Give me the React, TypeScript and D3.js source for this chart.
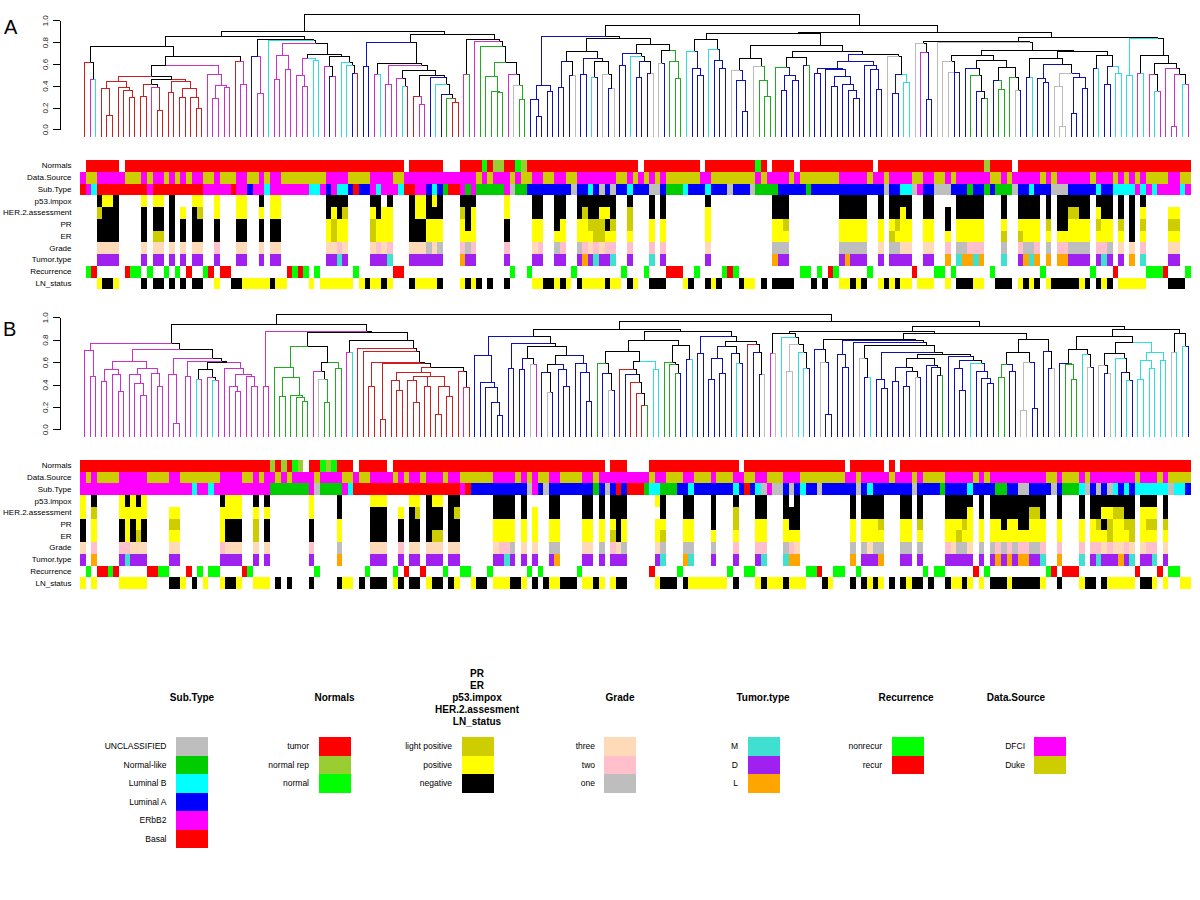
import React, { useEffect, useRef } from "react";
import * as d3 from "d3";

// annotation rows: "<code><from>-<to>" per sample column, blank where nothing is listed
const A_NORMALS = "R1-6 R8-57 R59-64 R68-71 G72 R73 V74-75 R76-77 G78 V79 R80-99 R101-110 R112-120 G121 R122 R124-127 R129-141 R143-161 V162 R163-166 R168-198";
const A_SOURCE = "M0 O1-2 M3-7 O8-10 M11 O12 M13-14 O15 M16 O17 M18 O19 M20-21 O22-23 M24 O25-27 M28-29 O30-31 M32 O33 M34-35 O36-43 M44-47 O48-51 M52-55 O56-57 M58-70 O71 M72 O73 M74-76 O77 M78 O79-80 M81-82 O83-84 M85-86 O87-88 M89-95 O96-97 M98 O99 M100 O101 M102 O103 M104 O105-110 M111-112 O113-120 M121 O122 M123-126 O127 M128 O129-135 M136-140 O141 M142-143 O144 M145-148 O149-150 M151-152 O153-154 M155 O156 M157-162 O163-164 M165 O166 M167-171 O172 M173 O174 M175-180 O181 M182-184 O185 M186 O187 M188 O189 M190 O191-194 M195-196 O197-198";
const A_SUBTYPE = "R0 M1 C2 R3-11 M12 R13-21 M22-26 R27 M28-29 B30 M31-32 C33 M34-40 C41-42 M43 B44 M45 C46-47 B48 R49 B50-51 M52 C53 M54-56 C57 R58-59 M60-61 B62 C63 B64 g65 R66-67 M68 g69 M70 g71-75 M76 U77 g78-79 B80-87 U88 B89-90 C91 B92 U93 B94 U95 B96-97 C98 B99-101 U102-103 B104 g105-107 C108 B109-111 C112 B113-115 U116 B117-119 U120 g121-124 B125-129 g130 B131-143 U144 B145-146 C147-148 U149 M150 B151-152 U153-155 B156-158 g159 B160-161 g162 B163 g164-166 U167 B168-169 C170 B171-173 U174-176 B177-181 C182 B183-184 C185-188 M189 C190 M191 C192 M193-196 C197 M198";
const A_P53 = "K3 Y4-5 K6 Y11 Y13-14 K16 Y20-21 Y24 Y28-29 K32 Y34-35 K44-47 K52-53 K55 K59 Y60-61 K62 Y63 K64 K68-70 Y76 K81-82 K85-86 K89-95 K98 K102 K104 K112 K124-126 K136-140 K143 K145-148 K151-152 K157-161 K165 K168-171 K173 K175-180 K182-184 K186 K188 K190";
const A_HER2 = "O3 K4-6 K11 K13-14 K16 Y18 K20 O21 Y24 Y28-29 Y32 Y34-35 K44 Y45 K46 O47 Y52 K53 Y54-55 K59 Y60-61 K62-64 O68 K69 Y70 Y76 K81-82 K85-86 K89 O90 K91-92 Y93-94 K95 O98 K102 K104 Y112 K124-126 K136-140 K143 K145-146 Y147 K148 K151-152 K155 K157-161 K165 K168-171 K173 K175-176 O177-178 K179-180 Y182 K183-184 K186 K188 Y190 Y195-196";
const A_PR = "K3-6 K11 K13-14 K16 K18 K20-21 K24 K28-29 K32 K34-35 Y44 O45 Y46-47 O52 Y53-55 K59-61 Y62-64 Y68 K69 Y70 K76 Y81-82 K85 Y86 Y89-90 O91-93 K94 O95 O98 Y102 Y104 Y112 Y124-125 O126 Y136-140 Y143 Y145 O146 Y147-148 Y151-152 K155 Y157-161 Y165 Y168-171 O173 K175-176 Y177-180 O182 Y183-184 O186 K188 O190 O195-196";
const A_ER = "K3-6 K11 O13-14 K16 K18 K20-21 K24 K28-29 K32 K34-35 Y44 O45 Y46-47 O52 Y53-55 K59-61 Y62-64 Y68-70 K76 Y81-82 Y85-86 Y89-91 O92-93 Y94-95 Y98 Y102 Y104 Y112 Y124-126 Y136-140 Y143 O145 Y146-148 Y151-152 Y155 Y157-161 O165 O168 Y169-171 Y173 Y175-180 Y182-184 Y186 K188 Y190 Y195-196";
const A_GRADE = "P3-6 P11 P13-14 P16 P18 P20-21 N24 P28-29 P32 P34-35 P44-45 N46 P47 P52 N53 P54 N55 P59-61 U62 P63 U64 N68 U69 N70 N76 P81 N82 U85 N86 U89 N90 P91 N92 P93 N94-95 N98 N102 N104 P112 U124-126 U136-140 P143 U145-146 P147-148 P151-152 N155 U157-158 N159-161 U165 N168 U169-170 N171 U173 N175-176 U177-180 N182-183 U184 P186 P188 N190 P195-196";
const A_TUMOR = "D3-6 D11 D13-14 D16 D18 D20-21 D24 D28-29 D32 D34-35 D44-45 T46 D47 D52-54 T55 D59-64 A68 D69-70 D76 D81-82 D85-86 D89 A90 D91 T92 D93-94 T95 D98 T102 D104 D112 A124 D125-126 D136 A137 D138-140 D143 D145-148 D151-152 A155 T157 A158-159 T160 A161 T165 D168 A169 T170 A171 A173 A175-176 D177-180 D182 T183 D184 D186 A188 T190 D195-196";
const A_RECUR = "G1 R2 R8 G9-10 G12 G15 G17 R19 G22 R23 R25-26 R37 G38 R39 G40 G42 G49 R56-57 G77 G80 G88 G97 G101 R105-107 G110 G115 R116 G117 G129-130 G132 R134 G135 G141 R149 G153-154 G156 G163 G172 G181 R185 G191-193 R194 G198";
const A_LN = "Y3 K4-5 Y6 K11 K13-14 K16 K18 K20-21 Y24 K27-28 Y29-33 K34 Y35-36 Y41 Y43-48 Y50 K51 Y52-53 K54 Y55 K59 Y60-63 K64 Y68 K69 Y70 K71 K73 K76 Y81-82 K83-84 Y85 K86 Y87 K89 Y90-93 K94 Y95-96 K98 Y99 K102-104 Y108 K109 K112 Y113 K114 K118 Y119-120 K122 K124-127 K131 K133 Y136-137 K138 Y139 K140 Y143 K144 Y145 K146 Y147-148 Y150-152 Y155 K157-159 Y160-161 K164-166 Y168 K169 Y170 K171 Y173 K174-178 Y179 K180 K182 Y183 K184 Y186-190 K195-197";

const B_NORMALS = "R0-33 V34 R35 V36 R37 G38 V39 R41-42 G43 V44 G45 R46-48 R50-54 R56-93 R95-97 R102-117 R119-136 R138-143 R145 R147-198";
const B_SOURCE = "M0 O1 M2 O3-6 M7-11 O12-15 M16-17 O18-24 M25-28 O29-30 M31 O32 M33-34 O35 M36 O37 M38-41 O42 M43-46 O47-48 M49 O50-51 M52-55 O56 M57 O58 M59-60 O61 M62-64 O65 M66-67 O68-73 M74-77 O78 M79 O80 M81 O82-83 M84-85 O86-89 M90-91 O92 M93-101 O102 M103-104 O105-107 M108-109 O110-112 M113 O114-116 M117-118 O119-120 M121-122 O123-125 M126-128 O129-136 M137-138 O139 M140-144 O145 M146-148 O149 M150 O151-154 M155-159 O160 M161 O162 M163-172 O173-174 M175 O176-178 M179 O180 M181-188 O189 M190-192 O193 M194 O195-198";
const B_SUBTYPE = "M0-19 C20 M21-22 C23 M24-33 g34-40 M41 U42 g43-46 M47 C48 R49-67 M68 R69 B70-79 U80 M81 B82 U83 B84-91 g92 B93 U94 B95 R96 B97 R98-100 g101 C102-103 g104-106 B107-108 C109 B110-116 C117 B118 R119 B120 C121 U122 M123 U124-125 B126 U127 B128 C129 B130-131 U132 B133-138 U139 B140 C141 B142-148 U149 B150-153 g154 B155-158 C159 B160-163 g164-165 B166-167 U168-169 B170-173 U174 B175 g176-178 C179 U180 B181 U182 B183 U184 C185 B186 C187 B188 C189-194 U195 C196-197 B198";
const B_P53 = "Y0 K2 Y7 K8 Y9 K10 Y11 K25 Y26-28 K31 K33 Y41 K46 Y52-54 Y59-60 K62 Y63-64 K66-67 K74-77 K79 K84-85 K90-91 K93 K95-97 Y103 K104 K108-109 K113 K117 K121-122 K126 K128 K138 K140-143 K147-148 K150 K155-159 K161 K163-172 K175 K179 K181-188 K190-192 K194";
const B_HER2 = "Y0 O2 Y7-11 Y16-17 Y25-28 Y31 Y33 Y41 K46 K52-54 Y57 K59 O60 K62-64 K66 O67 K74-77 K79 Y81 K84-85 K90-91 K93 K95-97 K104 K108-109 K113 O117 K121-122 K126-128 K138 K140-143 K147-148 K150 K155-158 Y159 K161 K163-169 O170-171 K172 K175 K179 K181-182 Y183-184 O185-186 K187-188 Y190-192 K194";
const B_PR = "K0 Y2 K7 Y8 K9 Y10 K11 O16-17 Y25 K26-28 O31 K33 K41 Y46 K52-54 K57 K59-60 K62-64 K66-67 Y74-77 Y79 Y81 Y84-85 Y90-91 Y93 Y95 K96 Y97 Y103-104 Y108-109 K113 O117 Y121-122 Y126 K127-128 Y138 Y140-142 O143 Y147-148 O150 Y155-157 O158 Y159 Y161 Y163-164 K165 Y166-167 K168-169 Y170-172 Y175 Y179 Y181 O182 K183 O184 Y185-186 O187-188 Y190 O191-192 O194";
const B_ER = "K0 Y2 K7 Y8 K9 O10 K11 Y16-17 Y25 K26-28 O31 K33 K41 Y46 K52-54 K57 K59-60 K62 O63-64 K66-67 Y74-77 Y79 Y81 Y84-85 Y90-91 Y93 O95 K96 Y97 Y103 O104 Y108-109 Y113 Y117 Y121-122 Y126-128 Y138 Y140-143 Y147-148 Y150 Y155-156 O157 Y158-159 Y161 Y163-172 Y175 Y179 Y181-183 O184 Y185-187 O188 Y190-192 Y194";
const B_GRADE = "P0 N2 N7-8 P9-11 P16-17 N25 P26-28 P31 P33 N41 U46 P52-54 N57 P59-60 P62-64 P66-67 P74 N75-76 U77 P79 P81 U84-85 P90-91 U93 N95 P96 U97 P103 U104 U108-109 U113 N117 N121-122 U126 N127 P128 U138 U140 P141 U142-143 U147-148 U150 N155 P156 U157-158 P159 U161 U163 N164 U165 N166 U167 N168-169 U170-171 N172 N175 N179 N181-182 P183 N184 P185-186 N187 P188 P190 N191-192 P194";
const B_TUMOR = "D0 A2 D7 T8 D9-11 D16-17 D25-28 D31 D33 D41 A46 D52-54 D57 D59-60 D62-64 D66-67 D74-75 T76 D77 D79 D81 D84 A85 D90-91 D93 D95-97 D103 T104 A108 T109 D113 D117 D121 T122 T126 A127-128 A138 D140-142 A143 D147-148 D150 D155-159 D161 D163 A164 D165 A166 D167 A168-169 D170-171 T172 A175 T179 D181 T182 D183-185 A186 D187 T188 D190-191 T192 D194";
const B_RECUR = "G1 R3-4 G5 R6 R12-13 G14-15 R19 G21 G23-24 R29 G30 G42 G51 G56 R58 R61 G65 G68-69 G73 G80 G82 G89 R102 G107 G116 G119-120 G130-131 R132 G135-136 G139 G151 G153-154 R160 G162 G173 R174 R176-178 R189 R193 G195-196";
const B_LN = "Y0 Y2 Y7-11 K16-17 Y18 K20 Y22 Y25 K26-27 Y28 Y31-33 K35 K37 K41 K46 Y47-48 K50 K52-54 Y56 K57 K59-60 Y62 K63-64 K66 Y67 Y70 K71-72 Y74-76 K77-78 Y79 K81 K83 Y84-85 K86-88 Y90-91 K92 Y93 Y95 K96-97 Y103 K104-106 K108 Y109-115 K117 Y121 K122 Y123-125 K126 Y127-129 K133 Y134 K138 K140 Y141 K142 Y143 K145 K147 Y148 K149-150 K152 K155 Y156-157 K158 Y159 Y161 K163-165 Y166 K167-171 Y172 K175 Y179 K180-181 K183 Y184-188 K190-191 Y192 Y194 Y197-198";

const ROW_LABELS = ["Normals", "Data.Source", "Sub.Type", "p53.impox", "HER.2.assessment", "PR", "ER", "Grade", "Tumor.type", "Recurrence", "LN_status"];
const A_ROWS = [A_NORMALS, A_SOURCE, A_SUBTYPE, A_P53, A_HER2, A_PR, A_ER, A_GRADE, A_TUMOR, A_RECUR, A_LN];
const B_ROWS = [B_NORMALS, B_SOURCE, B_SUBTYPE, B_P53, B_HER2, B_PR, B_ER, B_GRADE, B_TUMOR, B_RECUR, B_LN];

// leaves in B whose branch colour differs from what the Sub.Type row shows
const B_LEAF_FIX: any = { 121: "B", 125: "C", 126: "U", 127: "U", 128: "C" };

// merge trees: [height, left, right], 0 is a leaf; leaves run left to right
const A_0_29 = [.76, [.62, 0, [.46, 0, 0]],
  [.67, [.59, [.49,
    [.44, [.376, 0, [.13, 0, 0]], [.385, 0, [.36, 0, [.30, 0, 0]]]],
    [.46, [.42, [.31, 0, 0], [.39, 0, [.18, 0, 0]]], [.44, [.34, 0, 0], [.38, [.30, 0, 0], [.30, 0, [.20, 0, 0]]]]]],
    [.51, 0, [.41, [.29, 0, 0], [.385, 0, 0]]]],
    [.63, 0, [.42, 0, 0]]]];
const A_30_49 = [.83, [.67, 0, [.33, 0, 0]],
  [.82, 0, [.79, [.68, [.46, 0, 0], [.55, 0, 0]],
    [.69, [.65, [.50, 0, [.40, 0, 0]], [.64, 0, 0]],
      [.67, [.58, 0, [.49, 0, 0]], [.62, 0, [.59, 0, [.52, 0, 0]]]]]]]];
const A_50_67 = [.80, [.58, 0, 0],
  [.61, [.51, 0, 0], [.59, [.42, 0, 0],
    [.54, [.47, 0, [.40, 0, 0]],
      [.50, [.31, 0, [.23, 0, 0]], [.48, 0, [.42, 0, [.32, 0, [.29, 0, [.25, 0, 0]]]]]]]]]];
const A_68_79 = [.83, [.51, 0, 0],
  [.81, 0, [.76, 0, [.62, [.49, 0, [.35, 0, [.34, 0, 0]]], [.51, 0, [.41, 0, [.28, 0, 0]]]]]]];
const A_80_107 = [.86, [.41, [.28, 0, [.12, 0, 0]], [.35, 0, 0]],
  [.84, [.72, [.63, [.39, 0, 0], [.495, 0, 0]],
    [.65, [.505, 0, 0], [.63, [.48, 0, 0], [.505, 0, [.375, 0, 0]]]]],
    [.78, [.70, [.59, 0, 0], [.67, 0, [.63, [.48, 0, 0], [.52, 0, 0]]]],
      [.73, [.605, 0, 0], [.63, 0, [.47, 0, 0]]]]]];
const A_108_148 = [.885, [.83, [.72, 0, [.565, 0, [.495, 0, 0]]], [.74, 0, [.64, 0, [.565, 0, 0]]]],
  [.77, [.65, [.54, 0, [.45, 0, [.17, 0, 0]]], [.58, 0, [.45, 0, [.31, 0, 0]]]],
    [.72, [.66, [.57, 0, [.495, [.36, 0, 0], [.45, 0, 0]]], [.59, 0, 0]],
      [.695, [.63, [.565, [.515, 0, 0], [.55, 0, [.485, [.395, 0, 0], [.42, 0, [.36, 0, [.29, 0, 0]]]]]],
        [.59, 0, [.55, 0, [.37, 0, 0]]]],
        [.67, 0, [.505, [.33, 0, 0], [.43, 0, 0]]]]]]];
const A_154_186 = [.725,
  [.685, [.63, 0, [.53, 0, [.525, 0, 0]]],
    [.64, [.56, 0, [.495, 0, [.35, 0, [.285, 0, 0]]]], [.57, [.45, 0, [.37, 0, 0]], [.48, 0, [.36, 0, 0]]]]],
  [.72, [.65, [.48, 0, 0], [.595, [.47, 0, [.43, 0, 0]], [.52, [.40, 0, [.03, 0, 0]], [.48, [.15, 0, 0], [.375, 0, 0]]]]],
    [.68, [.56, 0, 0], [.58, [.42, 0, 0], [.515, 0, 0]]]]];
const A_149_198 = [.85, [.81, [.79, 0, [.71, 0, [.28, 0, 0]]], [.805, 0, A_154_186]],
  [.835, [.495, 0, 0], [.68, [.515, 0, 0], [.605, [.505, 0, [.35, 0, 0]], [.56, 0, [.505, [.03, 0, 0], [.42, 0, 0]]]]]]];
const TREE_A = [1.055,
  [.90, [.86, A_0_29, A_30_49], [.875, A_50_67, A_68_79]],
  [.96, A_80_107, [.89, A_108_148, A_149_198]]];

const B_0_31 = [.77, [.71, 0, [.48, 0, 0]],
  [.72, [.61, [.535, [.43, 0, 0], [.49, 0, [.34, 0, 0]]],
    [.545, [.49, 0, [.41, 0, [.31, 0, 0]]], [.50, 0, [.39, 0, 0]]]],
    [.634, [.49, 0, [.054, 0, 0]],
      [.61, [.476, 0, 0], [.60, [.535, [.445, 0, 0], [.47, 0, [.44, 0, 0]]],
        [.545, 0, [.49, [.39, 0, [.34, 0, 0]], [.473, 0, [.39, 0, 0]]]]]]]]];
const B_34_46 = [.745, [.56, 0, [.47, [.30, 0, 0], [.31, 0, [.29, 0, [.25, 0, 0]]]]],
  [.60, [.52, 0, [.445, 0, [.24, 0, 0]]], [.545, 0, 0]]];
const B_55_66 = [.51, [.44, 0, [.35, 0, 0]],
  [.48, [.44, 0, [.24, 0, 0]], [.475, [.385, 0, 0], [.39, [.14, 0, 0], [.295, 0, 0]]]]];
const B_47_69 = [.80, [.69, 0, 0],
  [.73, 0, [.70, 0, [.60, [.39, 0, 0], [.595, [.09, 0, 0], [.56, B_55_66, [.525, 0, [.375, 0, 0]]]]]]]];
const B_70_91 = [.83, [.664, 0, [.42, 0, [.375, 0, [.24, 0, [.125, 0, 0]]]]],
  [.77, [.545, 0, 0], [.74, [.64, [.535, 0, 0], [.58, 0, 0]],
    [.66, [.58, [.51, 0, [.33, 0, 0]], [.535, 0, [.385, 0, 0]]], [.59, 0, [.51, 0, [.25, 0, 0]]]]]]];
const B_92_109 = [.795,
  [.695, [.59, 0, [.50, 0, [.35, 0, 0]]], [.61, [.535, 0, [.49, 0, [.42, 0, [.32, 0, [.215, 0, 0]]]]], [.535, 0, 0]]],
  [.75, [.604, 0, [.58, 0, [.50, 0, 0]]], [.625, 0, 0]]];
const B_110_122 = [.83, [.68, 0, 0],
  [.79, [.745, [.64, [.446, 0, 0], [.50, 0, 0]], [.68, 0, [.59, 0, 0]]], [.76, 0, [.687, 0, [.49, 0, 0]]]]];
const B_123_130 = [.857, [.68, 0, 0], [.82, 0, [.76, [.52, 0, 0], [.69, 0, [.55, 0, 0]]]]];
const B_145_163 = [.67,
  [.634, [.56, [.43, 0, 0], [.518, [.384, 0, 0], [.464, 0, 0]]], [.57, 0, [.553, 0, [.482, 0, 0]]]],
  [.652, 0, [.616, [.545, 0, [.348, 0, 0]], [.59, 0, [.524, 0, [.455, 0, [.41, 0, 0]]]]]]];
const B_131_163 = [.81, [.72, 0, [.60, 0, [.14, 0, 0]]],
  [.795, [.67, 0, [.553, 0, 0]],
    [.777, 0, [.75, [.64, 0, [.464, 0, 0]], [.687, [.446, 0, [.366, 0, 0]], B_145_163]]]]];
const B_164_174 = [.81, [.687, [.58, [.464, 0, 0], [.518, 0, 0]], [.60, [.17, 0, 0], [.19, 0, 0]]], [.70, 0, [.545, 0, 0]]];
const B_175_198 = [.90,
  [.833, [.714, [.59, 0, [.58, 0, [.446, 0, 0]]], [.67, 0, [.56, 0, 0]]],
    [.777, [.68, [.57, 0, [.50, 0, 0]], [.64, 0, [.51, 0, [.44, 0, 0]]]],
      [.687, [.616, [.446, 0, 0], [.545, 0, 0]], [.616, 0, 0]]]],
  [.857, [.687, 0, 0], [.74, 0, 0]]];
const TREE_B = [1.03,
  [.94, B_0_31, [.875, [.385, 0, 0], [.873, B_34_46, B_47_69]]],
  [.965, [.893, B_70_91, [.875, B_92_109, B_110_122]],
    [.92, [.875, B_123_130, [.863, B_131_163, B_164_174]], B_175_198]]];

const AXIS_TICKS = [0, 0.2, 0.4, 0.6, 0.8, 1];

// legends
const SUBTYPE_LABELS = ["UNCLASSIFIED", "Normal-like", "Luminal B", "Luminal A", "ERbB2", "Basal"];
const SUBTYPE_CODES = ["U", "g", "C", "B", "M", "R"];
const NORMAL_LABELS = ["tumor", "normal rep", "normal"];
const NORMAL_CODES = ["R", "V", "G"];
const STATUS_LABELS = ["light positive", "positive", "negative"];
const STATUS_CODES = ["O", "Y", "K"];
const GRADE_LABELS = ["three", "two", "one"];
const GRADE_CODES = ["P", "N", "U"];
const TUMOR_LABELS = ["M", "D", "L"];
const TUMOR_CODES = ["T", "D", "A"];
const RECUR_LABELS = ["nonrecur", "recur"];
const RECUR_CODES = ["G", "R"];
const SOURCE_LABELS = ["DFCI", "Duke"];
const SOURCE_CODES = ["M", "O"];

const FILL: any = {
  R: "#ff0000", M: "#ff00ff", C: "#00ffff", B: "#0000ff", G: "#00ff00", g: "#00cd00", U: "#bebebe",
  O: "#cdcd00", Y: "#ffff00", K: "#000000", P: "#ffdab9", N: "#ffc0cb", T: "#40e0d0", D: "#a020f0",
  A: "#ffa500", V: "#9acd32",
};
const BRANCH: any = { R: "#cc2020", M: "#cc30cc", C: "#30dcdc", B: "#1010b8", g: "#20aa20", U: "#bbbbbb" };

const FONT = "'Liberation Sans', Arial, sans-serif";

const legends = [
  { title: ["Sub.Type"], labels: SUBTYPE_LABELS, codes: SUBTYPE_CODES, x: 176, labelX: 166.5, titleX: 192 },
  { title: ["Normals"], labels: NORMAL_LABELS, codes: NORMAL_CODES, x: 319, labelX: 309, titleX: 334.5 },
  { title: ["PR", "ER", "p53.impox", "HER.2.assesment", "LN_status"], labels: STATUS_LABELS, codes: STATUS_CODES, x: 462, labelX: 452, titleX: 477 },
  { title: ["Grade"], labels: GRADE_LABELS, codes: GRADE_CODES, x: 604, labelX: 595, titleX: 620 },
  { title: ["Tumor.type"], labels: TUMOR_LABELS, codes: TUMOR_CODES, x: 748, labelX: 738, titleX: 763 },
  { title: ["Recurrence"], labels: RECUR_LABELS, codes: RECUR_CODES, x: 892, labelX: 882, titleX: 906 },
  { title: ["Data.Source"], labels: SOURCE_LABELS, codes: SOURCE_CODES, x: 1034, labelX: 1025, titleX: 1016 },
];

function expandRow(spec: string) {
  const cells: any[] = [];
  spec.split(" ").forEach((tok) => {
    const [a, b] = tok.slice(1).split("-").map(Number);
    d3.range(a, (b === undefined ? a : b) + 1).forEach((i) => cells.push({ i, code: tok[0] }));
  });
  return cells;
}

// snap to the pixel grid so 1px branches stay solid
const snap = (v: number) => Math.round(v) + 0.5;

const Dendro = ({ tree, subtype, fix, top, bottom, base }: any) => {
  const axisRef = useRef<SVGGElement>(null);
  const yScale = d3.scaleLinear().domain([0, 1]).range([bottom, top]);
  const xScale = d3.scaleLinear().domain([0, 198]).range([84.2, 1187.6]);

  useEffect(() => {
    const g = d3.select(axisRef.current);
    g.selectAll("*").remove();
    g.call(d3.axisLeft(yScale).tickValues(AXIS_TICKS).tickSize(7).tickSizeOuter(0).tickFormat(d3.format(".1f")) as any);
    g.select(".domain").attr("stroke", "#000").attr("shape-rendering", "crispEdges");
    g.selectAll("line").attr("stroke", "#000").attr("shape-rendering", "crispEdges");
    g.selectAll("text")
      .attr("font-family", FONT)
      .attr("font-size", 8)
      .attr("fill", "#222")
      .attr("x", 0)
      .attr("dy", 0)
      .attr("text-anchor", "middle")
      .attr("transform", "translate(-12,0) rotate(-90)");
  }, []);

  const leafCode: any = {};
  expandRow(subtype).forEach((c) => (leafCode[c.i] = c.code));
  Object.keys(fix || {}).forEach((k) => (leafCode[k] = fix[k]));

  const root: any = d3.hierarchy(tree, (d: any) => (Array.isArray(d) ? [d[1], d[2]] : null));
  root.leaves().forEach((l: any, i: number) => {
    l.idx = i;
  });
  root.eachAfter((n: any) => {
    const lv = n.leaves();
    n.px = xScale(d3.mean(lv, (l: any) => l.idx) as number);
    n.py = n.children ? yScale(n.data[0]) : base;
    const codes = new Set(lv.map((l: any) => leafCode[l.idx]));
    n.col = codes.size === 1 ? BRANCH[leafCode[lv[0].idx]] : "#000";
  });

  const segs: any[] = [];
  root.eachBefore((n: any) => {
    if (!n.children) return;
    n.children.forEach((c: any) => {
      segs.push({ d: `M${snap(c.px)},${snap(c.py)}V${snap(n.py)}H${snap(n.px)}`, col: c.col });
    });
  });

  return (
    <g>
      <g ref={axisRef} transform="translate(60,0)" />
      <g fill="none" strokeWidth={1} shapeRendering="crispEdges">
        {segs.map((s, i) => (
          <path key={i} d={s.d} stroke={s.col} />
        ))}
      </g>
    </g>
  );
};

const Heat = ({ rows, top, bottom }: any) => {
  const xBand = d3.scaleBand<number>().domain(d3.range(199)).range([80, 1190.7]);
  const yBand = d3.scaleBand<string>().domain(ROW_LABELS).range([top, bottom]);
  return (
    <g>
      {ROW_LABELS.map((lab, r) => (
        <g key={lab}>
          <text x={71.5} y={(yBand(lab) as number) + yBand.bandwidth() / 2 + 2.5} textAnchor="end" fontFamily={FONT} fontSize={8}>
            {lab}
          </text>
          {expandRow(rows[r]).map((c) => (
            <rect
              key={c.i}
              x={xBand(c.i)}
              y={yBand(lab)}
              width={xBand.bandwidth()}
              height={yBand.bandwidth()}
              fill={FILL[c.code]}
              shapeRendering="crispEdges"
            />
          ))}
        </g>
      ))}
    </g>
  );
};

const Legend = ({ spec }: any) => {
  const n = spec.labels.length;
  const yBand = d3.scaleBand<string>().domain(spec.labels).range([737, 737 + n * 18.5]);
  const lines = spec.title;
  return (
    <g fontFamily={FONT}>
      {lines.map((t: string, i: number) => (
        <text key={t} x={spec.titleX} y={701 - (lines.length - 1 - i) * 12 + (lines.length > 1 ? 24 : 0)} textAnchor="middle" fontWeight="bold" fontSize={10}>
          {t}
        </text>
      ))}
      {spec.labels.map((lab: string, i: number) => (
        <g key={lab}>
          <rect x={spec.x} y={yBand(lab)} width={32} height={yBand.bandwidth()} fill={FILL[spec.codes[i]]} shapeRendering="crispEdges" />
          <text x={spec.labelX} y={(yBand(lab) as number) + 12} textAnchor="end" fontSize={8.5}>
            {lab}
          </text>
        </g>
      ))}
    </g>
  );
};

export default function App() {
  return (
    <svg width={1200} height={900} style={{ position: "absolute", left: 0, top: 0, background: "#fff" }}>
      <text x={4} y={34} fontFamily={FONT} fontSize={20}>A</text>
      <text x={3} y={336} fontFamily={FONT} fontSize={20}>B</text>
      <Dendro tree={TREE_A} subtype={A_SUBTYPE} top={20.3} bottom={129.3} base={135.7} />
      <Heat rows={A_ROWS} top={160} bottom={289.3} />
      <Dendro tree={TREE_B} subtype={B_SUBTYPE} fix={B_LEAF_FIX} top={317.3} bottom={429.3} base={436} />
      <Heat rows={B_ROWS} top={460} bottom={589} />
      {legends.map((s) => (
        <Legend key={s.title[0]} spec={s} />
      ))}
    </svg>
  );
}
